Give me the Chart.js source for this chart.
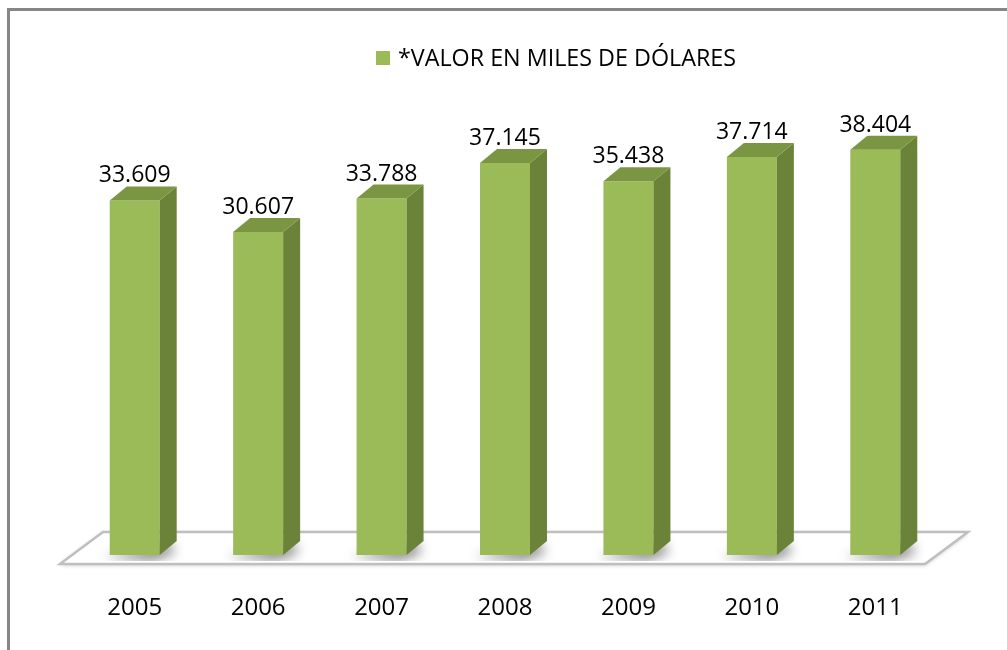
<!DOCTYPE html>
<html>
<head>
<meta charset="utf-8">
<script src="https://cdn.jsdelivr.net/npm/chart.js@4.4.1/dist/chart.umd.min.js"></script>
<style>
  html, body { margin: 0; padding: 0; background: #fff; }
  #wrap { position: relative; width: 1007px; height: 650px; }
</style>
</head>
<body>
<div id="wrap"><canvas id="chart_valorMilesDolares"></canvas></div>
<script>
// data
var years = ['2005', '2006', '2007', '2008', '2009', '2010', '2011'];
var valores = [33.609, 30.607, 33.788, 37.145, 35.438, 37.714, 38.404];
var serieLabel = '*VALOR EN MILES DE DÓLARES';

var FONT = '"Open Sans", "Noto Sans", sans-serif';
var DX = 17, DY = 14; // 3d depth of bars

function fmt(v) {
    return v.toFixed(3);
}

var chart_valorMilesDolares = new Chart(document.getElementById('chart_valorMilesDolares'), {
    type: 'bar',
    data: {
        labels: years,
        datasets: [
            {
                label: serieLabel,
                data: valores,
                backgroundColor: '#9BBB59',
                borderWidth: 0,
                categoryPercentage: 1,
                barPercentage: 0.405
            }
        ]
    },
    options: {
        animation: false,
        responsive: true,
        maintainAspectRatio: false,
        layout: {
            padding: { left: 73, right: 70, top: 133, bottom: 31 }
        },
        plugins: {
            legend: { display: false },
            tooltip: { enabled: false }
        },
        scales: {
            x: {
                grid: { display: false, drawTicks: false },
                border: { display: false },
                ticks: {
                    color: '#000',
                    padding: 39,
                    font: { family: FONT, size: 24 }
                },
                afterFit: (scale) => {
                    scale.height = 64;
                }
            },
            y: {
                display: false,
                min: 0,
                max: 40
            }
        }
    },
    plugins: [{
        id: 'frameAndFloor',
        beforeDraw: (chart) => {
            const ctx = chart.ctx;
            ctx.save();
            ctx.fillStyle = 'white';
            ctx.fillRect(0, 0, chart.width, chart.height);
            ctx.strokeStyle = '#868686';
            ctx.lineWidth = 3;
            ctx.strokeRect(8.5, 9.5, chart.width + 50, chart.height + 50);
            ctx.restore();
        },
        beforeDatasetsDraw: (chart) => {
            const ctx = chart.ctx;
            const a = chart.chartArea;
            const fy = a.bottom + 9, by = a.bottom - 23;
            const fl = a.left - 13, fr = a.right - 12;
            ctx.save();
            ctx.beginPath();
            ctx.moveTo(fl + 43, by);
            ctx.lineTo(fr + 43, by);
            ctx.lineTo(fr, fy);
            ctx.lineTo(fl, fy);
            ctx.closePath();
            ctx.fillStyle = '#fff';
            ctx.shadowColor = 'rgba(0,0,0,0.25)';
            ctx.shadowBlur = 4;
            ctx.shadowOffsetY = 1;
            ctx.fill();
            ctx.shadowColor = 'transparent';
            ctx.strokeStyle = '#BFBFBF';
            ctx.lineWidth = 2.5;
            ctx.lineJoin = 'miter';
            ctx.stroke();
            // soft shadows at bar feet
            const meta = chart.getDatasetMeta(0);
            meta.data.forEach((bar) => {
                const x0 = bar.x - bar.width / 2;
                ctx.save();
                ctx.beginPath();
                ctx.rect(fl, by, fr - fl + 50, fy - by - 3);
                ctx.clip();
                ctx.shadowColor = 'rgba(0,0,0,0.45)';
                ctx.shadowBlur = 12;
                ctx.shadowOffsetX = 10000 - 6;
                ctx.shadowOffsetY = 2;
                ctx.fillStyle = '#000';
                ctx.beginPath();
                ctx.moveTo(x0 - 10000, bar.base);
                ctx.lineTo(x0 + bar.width + DX - 10000, bar.base - DY);
                ctx.lineTo(x0 + bar.width + DX + 4 - 10000, bar.base - 4);
                ctx.lineTo(x0 + bar.width - 10000, bar.base + 4);
                ctx.closePath();
                ctx.fill();
                ctx.restore();
            });
            ctx.restore();
        },
        afterDatasetsDraw: (chart) => {
            const ctx = chart.ctx;
            const meta = chart.getDatasetMeta(0);
            ctx.save();
            meta.data.forEach((bar, i) => {
                const x0 = bar.x - bar.width / 2, x1 = bar.x + bar.width / 2;
                const top = bar.y, base = bar.base;
                // side face
                ctx.fillStyle = '#6B8339';
                ctx.beginPath();
                ctx.moveTo(x1, top);
                ctx.lineTo(x1 + DX, top - DY);
                ctx.lineTo(x1 + DX, base - DY);
                ctx.lineTo(x1, base);
                ctx.closePath();
                ctx.fill();
                // top face
                ctx.fillStyle = '#7B9643';
                ctx.beginPath();
                ctx.moveTo(x0, top);
                ctx.lineTo(x0 + DX, top - DY);
                ctx.lineTo(x1 + DX, top - DY);
                ctx.lineTo(x1, top);
                ctx.closePath();
                ctx.fill();
                // value label
                ctx.fillStyle = '#000';
                ctx.font = '23px ' + FONT;
                ctx.textAlign = 'center';
                ctx.textBaseline = 'alphabetic';
                ctx.fillText(fmt(valores[i]), bar.x, top - DY - 4);
            });
            // legend
            ctx.fillStyle = '#9BBB59';
            ctx.fillRect(376, 51, 14, 14);
            ctx.fillStyle = '#000';
            ctx.font = '23.3px ' + FONT;
            ctx.textAlign = 'left';
            ctx.textBaseline = 'middle';
            ctx.fillText(chart.data.datasets[0].label, 398, 59);
            ctx.restore();
        }
    }]
});
</script>
</body>
</html>
